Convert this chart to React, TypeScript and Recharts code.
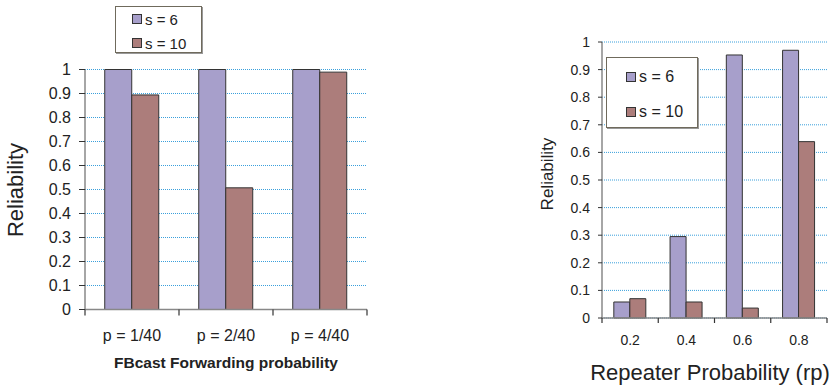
import React from 'react';
import { BarChart, Bar, XAxis, YAxis, CartesianGrid } from 'recharts';

const FONT = '"Liberation Sans", Arial, Helvetica, sans-serif';

// left panel: FBcast forwarding probability
const fbCategories = ['p = 1/40', 'p = 2/40', 'p = 4/40'];
const fbS6 = [1, 1, 1];
const fbS10 = [0.894, 0.507, 0.989];

// right panel: repeater probability
const rpCategories = ['0.2', '0.4', '0.6', '0.8'];
const rpS6 = [0.058, 0.295, 0.953, 0.97];
const rpS10 = [0.07, 0.058, 0.036, 0.639];

const seriesNames = ['s = 6', 's = 10'];
const seriesColors = ['#a79fcb', '#ac7d7b'];
const yTicks = [0, 0.1, 0.2, 0.3, 0.4, 0.5, 0.6, 0.7, 0.8, 0.9, 1];

const fbData = fbCategories.map((c, i) => ({ name: c, s6: fbS6[i], s10: fbS10[i] }));
const rpData = rpCategories.map((c, i) => ({ name: c, s6: rpS6[i], s10: rpS10[i] }));

const GRID = '#3aa0dc';

type TickProps = {
  x?: number;
  y?: number;
  index?: number;
  visibleTicksCount?: number;
  payload?: { value?: string; offset?: number };
};

// category tick: label in the middle, tick marks on the band edges
function BandTick(props: TickProps & { half: number; fontSize: number; labelDy: number; tickLen: number }) {
  const { x = 0, y = 0, index = 0, visibleTicksCount = 0, payload, half, fontSize, labelDy, tickLen } = props;
  const h = payload?.offset ?? half;
  return (
    <g>
      <line x1={x - h} x2={x - h} y1={y} y2={y + tickLen} stroke="#333" strokeWidth={1.2} />
      {index === visibleTicksCount - 1 && (
        <line x1={x + h} x2={x + h} y1={y} y2={y + tickLen} stroke="#333" strokeWidth={1.2} />
      )}
      <text x={x} y={y + labelDy} dy="0.35em" textAnchor="middle" fontSize={fontSize} fill="#222" fontFamily={FONT}>
        {payload?.value}
      </text>
    </g>
  );
}

function LegendBox({
  left,
  top,
  width,
  height,
  rows,
  swatchX,
  fontSize,
}: {
  left: number;
  top: number;
  width: number;
  height: number;
  rows: number[];
  swatchX: number;
  fontSize: number;
}) {
  return (
    <div
      style={{
        position: 'absolute',
        left,
        top,
        width,
        height,
        boxSizing: 'border-box',
        border: '1px solid #6f6a5c',
        background: '#fff',
        boxShadow: '1px 1px 0 #999',
      }}
    >
      {seriesNames.map((n, i) => (
        <div
          key={n}
          style={{
            position: 'absolute',
            left: swatchX,
            top: rows[i] - 10,
            height: 20,
            display: 'flex',
            alignItems: 'center',
            whiteSpace: 'nowrap',
            fontSize,
            color: '#222',
          }}
        >
          <span
            style={{
              display: 'inline-block',
              width: 10,
              height: 10,
              boxSizing: 'border-box',
              border: '1px solid #333',
              background: seriesColors[i],
              marginRight: 3,
            }}
          />
          {n}
        </div>
      ))}
    </div>
  );
}

function Title({ text, cx, cy, size, rotate, bold }: { text: string; cx: number; cy: number; size: number; rotate?: boolean; bold?: boolean }) {
  return (
    <div
      style={{
        position: 'absolute',
        left: cx,
        top: cy,
        transform: `translate(-50%, -50%)${rotate ? ' rotate(-90deg)' : ''}`,
        whiteSpace: 'nowrap',
        fontSize: size,
        fontWeight: bold ? 700 : 400,
        color: '#222',
        lineHeight: 1,
      }}
    >
      {text}
    </div>
  );
}

export default function App() {
  return (
    <div
      style={{
        position: 'absolute',
        left: 0,
        top: 0,
        width: 835,
        height: 388,
        background: '#fff',
        fontFamily: FONT,
        overflow: 'hidden',
      }}
    >
      <div style={{ position: 'absolute', left: 0, top: 0 }}>
        <BarChart
          width={420}
          height={388}
          data={fbData}
          margin={{ top: 69.5, right: 53, bottom: 48.5, left: 25 }}
          barCategoryGap="21%"
          barGap={0}
        >
          <CartesianGrid vertical={false} stroke={GRID} strokeDasharray="1 1" />
          <XAxis
            dataKey="name"
            height={30}
            axisLine={{ stroke: '#888', strokeWidth: 1.5 }}
            tickLine={false}
            tickSize={0}
            tickMargin={0}
            interval={0}
            tick={(p: TickProps) => <BandTick {...p} half={47} fontSize={16} labelDy={26} tickLen={6} />}
          />
          <YAxis
            width={60}
            domain={[0, 1]}
            ticks={yTicks}
            interval={0}
            tickSize={6}
            tickMargin={8}
            axisLine={{ stroke: '#888', strokeWidth: 1.5 }}
            tickLine={{ stroke: '#333' }}
            tick={{ fontSize: 16, fill: '#222', fontFamily: FONT }}
          />
          <Bar dataKey="s6" fill={seriesColors[0]} stroke="#333" strokeWidth={1} isAnimationActive={false} />
          <Bar dataKey="s10" fill={seriesColors[1]} stroke="#333" strokeWidth={1} isAnimationActive={false} />
        </BarChart>
      </div>

      <div style={{ position: 'absolute', left: 420, top: 0 }}>
        <BarChart
          width={415}
          height={388}
          data={rpData}
          margin={{ top: 42, right: 8, bottom: 40, left: 122 }}
          barCategoryGap="21%"
          barGap={0}
        >
          <CartesianGrid vertical={false} stroke={GRID} strokeDasharray="1 1" />
          <XAxis
            dataKey="name"
            height={30}
            axisLine={{ stroke: '#888', strokeWidth: 1.5 }}
            tickLine={false}
            tickSize={0}
            tickMargin={0}
            interval={0}
            tick={(p: TickProps) => <BandTick {...p} half={28} fontSize={14} labelDy={22} tickLen={5} />}
          />
          <YAxis
            width={60}
            domain={[0, 1]}
            ticks={yTicks}
            interval={0}
            tickSize={4}
            tickMargin={8}
            axisLine={{ stroke: '#888', strokeWidth: 1.5 }}
            tickLine={{ stroke: '#333' }}
            tick={{ fontSize: 14, fill: '#222', fontFamily: FONT }}
          />
          <Bar dataKey="s6" fill={seriesColors[0]} stroke="#333" strokeWidth={1} isAnimationActive={false} />
          <Bar dataKey="s10" fill={seriesColors[1]} stroke="#333" strokeWidth={1} isAnimationActive={false} />
        </BarChart>
      </div>

      <LegendBox left={115} top={6} width={87} height={47} rows={[12, 36]} swatchX={16} fontSize={15} />
      <LegendBox left={606} top={57} width={92} height={71} rows={[19, 54]} swatchX={19} fontSize={16} />

      <Title text="Reliability" cx={16} cy={190} size={22} rotate />
      <Title text="FBcast Forwarding probability" cx={226} cy={363} size={15.5} bold />
      <Title text="Reliability" cx={547} cy={174} size={17} rotate />
      <Title text="Repeater Probability (rp)" cx={710} cy={373} size={22} />
    </div>
  );
}
